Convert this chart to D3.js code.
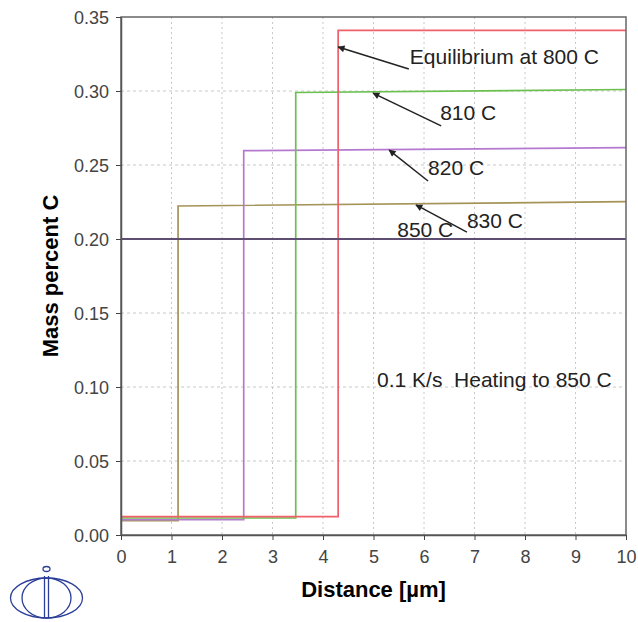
<!DOCTYPE html>
<html><head><meta charset="utf-8">
<script src="https://cdn.jsdelivr.net/npm/d3@7"></script>
<style>body{margin:0;background:#fff}svg{display:block}text{font-family:"Liberation Sans",Arial,sans-serif}</style>
</head><body>
<svg id="c" width="638" height="622"></svg>
<script>
// Data
const xTicks = [0,1,2,3,4,5,6,7,8,9,10];
const yTicks = [0,0.05,0.10,0.15,0.20,0.25,0.30,0.35];
const seriesNames = ["Equilibrium at 800 C","810 C","820 C","830 C","850 C"];
const seriesColors = ["#f0606a","#6cc050","#b57ad0","#a49458","#5e4f72"];
const eq800X = [0, 4.30, 4.30, 10];
const eq800Y = [0.0124, 0.0124, 0.341, 0.341];
const t810X = [0, 3.46, 3.46, 10];
const t810Y = [0.0115, 0.0115, 0.299, 0.301];
const t820X = [0, 2.43, 2.43, 10];
const t820Y = [0.0103, 0.0103, 0.2597, 0.2617];
const t830X = [0, 1.13, 1.13, 10];
const t830Y = [0.0097, 0.0097, 0.2223, 0.2252];
const t850X = [0, 10];
const t850Y = [0.200, 0.200];
// annotations: label text position and arrow tail/head, in data units
const labels = [
  {t:"Equilibrium at 800 C", x:5.72, y:0.3182, ax:5.70, ay:0.3149, hx:4.30, hy:0.3297},
  {t:"810 C", x:6.32, y:0.2804, ax:6.34, ay:0.2764, hx:4.99, hy:0.2986},
  {t:"820 C", x:6.08, y:0.2432, ax:6.08, ay:0.2392, hx:5.31, hy:0.2601},
  {t:"830 C", x:6.85, y:0.2074, ax:6.85, ay:0.2047, hx:5.84, hy:0.2230},
  {t:"850 C", x:5.47, y:0.2014, ax:null}
];
const note = "0.1 K/s  Heating to 850 C";

const svg = d3.select("#c");
const m = {l:121, r:626, t:17, b:535};
const x = d3.scaleLinear().domain([0,10]).range([m.l, m.r]);
const y = d3.scaleLinear().domain([0,0.35]).range([m.b, m.t]);

// grid
const g = svg.append("g");
g.selectAll(".gx").data(xTicks.slice(1,-1)).enter().append("line")
  .attr("x1",d=>x(d)).attr("x2",d=>x(d)).attr("y1",m.t).attr("y2",m.b)
  .attr("stroke","#c8c8c8").attr("stroke-dasharray","2,3");
g.selectAll(".gy").data(yTicks.slice(1,-1)).enter().append("line")
  .attr("y1",d=>y(d)).attr("y2",d=>y(d)).attr("x1",m.l).attr("x2",m.r)
  .attr("stroke","#c8c8c8").attr("stroke-dasharray","3,3");

// series
const allX = [eq800X,t810X,t820X,t830X,t850X];
const allY = [eq800Y,t810Y,t820Y,t830Y,t850Y];
const line = d3.line().x(d=>x(d[0])).y(d=>y(d[1]));
[3,2,1,0,4].forEach(i=>{
  const pts = allX[i].map((v,k)=>[v, allY[i][k]]);
  svg.append("path").attr("d", line(pts)).attr("fill","none")
    .attr("stroke", seriesColors[i]).attr("stroke-width", i===4?2.2:1.7);
});

// frame
svg.append("rect").attr("x",m.l).attr("y",m.t).attr("width",m.r-m.l).attr("height",m.b-m.t)
  .attr("fill","none").attr("stroke","#666").attr("stroke-width",1.5);

// axes
const xa = svg.append("g").attr("transform",`translate(0,${m.b})`)
  .call(d3.axisBottom(x).tickValues(xTicks).tickSize(5).tickSizeOuter(0).tickFormat(d3.format("d")));
const ya = svg.append("g").attr("transform",`translate(${m.l},0)`)
  .call(d3.axisLeft(y).tickValues(yTicks).tickSize(5).tickSizeOuter(0).tickFormat(d3.format(".2f")));
[xa,ya].forEach(a=>{
  a.select(".domain").attr("stroke","#555").attr("stroke-width",1.5);
  a.selectAll(".tick line").attr("stroke","#444");
  a.selectAll(".tick text").attr("fill","#444").attr("font-size",18).attr("font-family","Liberation Sans, Arial, sans-serif");
});
xa.selectAll(".tick text").attr("y",0).attr("dy",0).attr("transform","translate(0,28)");
ya.selectAll(".tick text").attr("x",-12).attr("dy","0.36em");

// axis titles
svg.append("text").attr("x",(m.l+m.r)/2).attr("y",597).attr("text-anchor","middle")
  .attr("font-size",22).attr("font-weight","bold").attr("fill","#000").text("Distance [µm]");
svg.append("text").attr("transform",`translate(58,${(m.t+m.b)/2}) rotate(-90)`).attr("text-anchor","middle")
  .attr("font-size",22).attr("font-weight","bold").attr("fill","#000").text("Mass percent C");

// arrow marker
svg.append("defs").append("marker").attr("id","ah").attr("viewBox","0 0 10 10")
  .attr("refX",9).attr("refY",5).attr("markerWidth",10).attr("markerHeight",7).attr("markerUnits","userSpaceOnUse")
  .attr("orient","auto").append("path").attr("d","M0,0L10,5L0,10z").attr("fill","#222");

labels.forEach(L=>{
  svg.append("text").attr("x",x(L.x)).attr("y",y(L.y)).attr("font-size",21).attr("fill","#222").text(L.t);
  if(L.ax!==null){
    svg.append("line").attr("x1",x(L.ax)).attr("y1",y(L.ay)).attr("x2",x(L.hx)).attr("y2",y(L.hy))
      .attr("stroke","#222").attr("stroke-width",1.5).attr("marker-end","url(#ah)");
  }
});
svg.append("text").attr("x",x(5.07)).attr("y",y(0.1000)).attr("font-size",21).attr("fill","#222")
  .style("white-space","pre").text(note);

// logo
const lg = svg.append("g").attr("fill","none").attr("stroke","#2c3f98").attr("stroke-width",1.3);
lg.append("ellipse").attr("cx",46.5).attr("cy",598).attr("rx",36).attr("ry",20);
lg.append("ellipse").attr("cx",46.5).attr("cy",598).attr("rx",24.5).attr("ry",20);
lg.append("line").attr("x1",44.5).attr("x2",44.5).attr("y1",576).attr("y2",618);
lg.append("line").attr("x1",48.5).attr("x2",48.5).attr("y1",576).attr("y2",618);
lg.append("ellipse").attr("cx",46.5).attr("cy",569).attr("rx",3.5).attr("ry",2.5);
</script>
</body></html>
